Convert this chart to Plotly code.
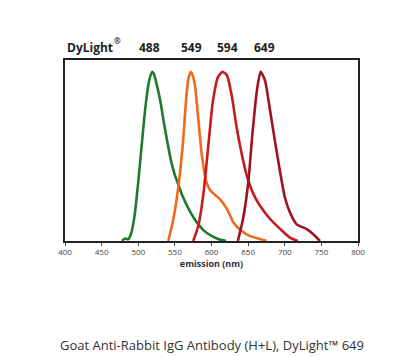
import plotly.graph_objects as go

# DyLight emission spectra (normalized)
dyes = ["488", "549", "594", "649"]
colors = ["#1f7a2e", "#f06a1e", "#c8191c", "#9c1520"]

wl_488 = [478, 482, 486, 490, 495, 500, 505, 510, 515, 519, 522, 525, 530, 535, 540, 545, 550, 555, 560, 570, 580, 590, 600, 610, 620]
em_488 = [0.0, 0.015, 0.01, 0.04, 0.15, 0.35, 0.58, 0.80, 0.95, 1.0, 0.98, 0.93, 0.83, 0.70, 0.58, 0.47, 0.39, 0.33, 0.27, 0.18, 0.11, 0.06, 0.03, 0.01, 0.0]

wl_549 = [541, 548, 555, 561, 566, 569, 572, 575, 578, 582, 587, 593, 598, 603, 612, 621, 630, 641, 652, 664, 675]
em_549 = [0.0, 0.13, 0.33, 0.58, 0.87, 0.97, 1.0, 0.97, 0.90, 0.72, 0.50, 0.35, 0.30, 0.28, 0.245, 0.19, 0.11, 0.06, 0.03, 0.015, 0.0]

wl_594 = [575, 582, 589, 596, 602, 609, 615, 621, 628, 634, 641, 648, 657, 666, 680, 694, 707, 718]
em_594 = [0.0, 0.09, 0.28, 0.58, 0.83, 0.97, 1.0, 0.98, 0.85, 0.68, 0.52, 0.39, 0.28, 0.21, 0.13, 0.07, 0.02, 0.0]

wl_649 = [636, 643, 650, 656, 662, 667, 673, 680, 687, 694, 700, 707, 716, 730, 739, 748]
em_649 = [0.0, 0.13, 0.34, 0.64, 0.89, 1.0, 0.95, 0.77, 0.58, 0.40, 0.26, 0.17, 0.10, 0.07, 0.04, 0.0]

wavelengths = [wl_488, wl_549, wl_594, wl_649]
emissions = [em_488, em_549, em_594, em_649]
label_x = [516, 573, 622, 672]

x_ticks = [400, 450, 500, 550, 600, 650, 700, 750, 800]

fig = go.Figure()
for name, c, wl, em in zip(dyes, colors, wavelengths, emissions):
    fig.add_trace(go.Scatter(x=wl, y=em, mode="lines", name=name,
                             line=dict(color=c, width=2.6, shape="spline", smoothing=0.6),
                             hoverinfo="skip"))

fig.add_annotation(text="<b>DyLight</b>", xref="paper", yref="paper", x=0.0, y=1.01,
                   xanchor="left", yanchor="bottom", showarrow=False,
                   font=dict(family="Open Sans", size=12, color="#222"))
fig.add_annotation(text="<b>®</b>", xref="paper", yref="paper", x=0.161, y=1.065,
                   xanchor="left", yanchor="bottom", showarrow=False,
                   font=dict(family="Open Sans", size=8, color="#222"))
for name, lx in zip(dyes, label_x):
    fig.add_annotation(text="<b>" + name + "</b>", xref="x", yref="paper", x=lx, y=1.01,
                       xanchor="center", yanchor="bottom", showarrow=False,
                       font=dict(family="Open Sans", size=12, color="#222"))

fig.add_annotation(text="Goat Anti-Rabbit IgG Antibody (H+L), DyLight™ 649",
                   xref="paper", yref="paper", x=0.5, y=-0.575,
                   xanchor="center", yanchor="middle", showarrow=False,
                   font=dict(family="Open Sans", size=13, color="#333"))

fig.update_layout(
    width=419, height=357,
    margin=dict(l=65, r=61, t=60, b=116),
    paper_bgcolor="white", plot_bgcolor="white",
    showlegend=False,
    xaxis=dict(range=[400, 800], tickvals=x_ticks, ticktext=[str(t) for t in x_ticks],
               showgrid=False, zeroline=False, showline=True, mirror=True,
               linecolor="#222", linewidth=1.5, ticks="outside", ticklen=3,
               tickcolor="#444", tickwidth=1,
               tickfont=dict(family="Open Sans", size=8, color="#444"),
               title=dict(text="<b>emission (nm)</b>", standoff=2,
                          font=dict(family="Open Sans", size=9, color="#333"))),
    yaxis=dict(range=[0, 1.07], showticklabels=False, showgrid=False, zeroline=False,
               showline=True, mirror=True, linecolor="#222", linewidth=1.5, ticks=""),
)

fig.write_html("out.html")
